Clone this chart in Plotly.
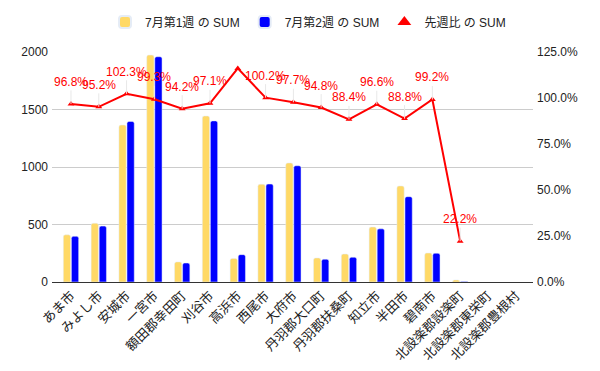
import plotly.graph_objects as go

categories = ["あま市", "みよし市", "安城市", "一宮市", "額田郡幸田町", "刈谷市", "高浜市",
              "西尾市", "大府市", "丹羽郡大口町", "丹羽郡扶桑町", "知立市", "半田市", "碧南市",
              "北設楽郡設楽町", "北設楽郡東栄町", "北設楽郡豊根村"]
week1 = [410, 511, 1365, 1973, 175, 1443, 205, 850, 1035, 209, 243, 478, 835, 252, 18, None, None]
week2 = [397, 486, 1396, 1959, 165, 1401, 238, 852, 1011, 198, 215, 462, 742, 250, 4, None, None]
ratio = [0.968, 0.952, 1.023, 0.993, 0.942, 0.971, 1.161, 1.002, 0.977, 0.948, 0.884, 0.966,
         0.888, 0.992, 0.222, None, None]
ratio_labels = ["96.8%", "95.2%", "102.3%", "99.3%", "94.2%", "97.1%", None, "100.2%", "97.7%",
                "94.8%", "88.4%", "96.6%", "88.8%", "99.2%", "22.2%", None, None]

FONT = "Liberation Sans, Arial, Noto Sans CJK JP, sans-serif"

fig = go.Figure()
fig.add_trace(go.Bar(x=categories, y=week1, name="7月第1週 の SUM", marker_color="#FFD966"))
fig.add_trace(go.Bar(x=categories, y=week2, name="7月第2週 の SUM", marker_color="#0000FF"))
fig.add_trace(go.Scatter(x=categories, y=ratio, name="先週比 の SUM", yaxis="y2",
                         mode="lines+markers", line=dict(color="#FF0000", width=2),
                         marker=dict(symbol="triangle-up", size=6, color="#FF0000"),
                         showlegend=False))
# legend-only entry (triangle symbol only)
fig.add_trace(go.Scatter(x=[None], y=[None], name="先週比 の SUM", yaxis="y2",
                         mode="markers",
                         marker=dict(symbol="triangle-up", size=11, color="#FF0000")))

for c, r, t in zip(categories, ratio, ratio_labels):
    if t is None:
        continue
    fig.add_annotation(x=c, y=r, xref="x", yref="y2", text=t, showarrow=True,
                       arrowhead=0, arrowwidth=1, arrowcolor="#E8E8E8", ax=0, ay=-22,
                       font=dict(color="#FF0000", size=12, family=FONT))

fig.update_layout(
    width=600, height=371,
    margin=dict(l=44, r=75, t=44, b=97),
    paper_bgcolor="white", plot_bgcolor="white",
    font=dict(family=FONT, size=12, color="#222222"),
    barmode="group", bargap=0.42, bargroupgap=0.1, barcornerradius=2,
    legend=dict(orientation="h", x=0.5, xanchor="center", xref="container",
                y=0.962, yanchor="middle", yref="container",
                font=dict(size=12, color="#222222"), itemsizing="constant", itemwidth=30),
    xaxis=dict(tickangle=-45, showline=True, linecolor="#333333", linewidth=1,
               range=[-0.683, 16.62],
               ticks="", automargin=False, tickfont=dict(size=13, color="#222222")),
    yaxis=dict(range=[0, 2000], tickvals=[0, 500, 1000, 1500, 2000], showgrid=True,
               gridcolor="#CCCCCC", zeroline=False, automargin=False, ticklabelstandoff=3,
               tickfont=dict(size=12, color="#222222")),
    yaxis2=dict(range=[0, 1.25], overlaying="y", side="right", tickformat=".1%",
                tickvals=[0, 0.25, 0.5, 0.75, 1.0, 1.25], showgrid=False, zeroline=False,
                automargin=False, ticklabelstandoff=3,
                tickfont=dict(size=12, color="#222222")),
)

fig.write_html("out.html")
